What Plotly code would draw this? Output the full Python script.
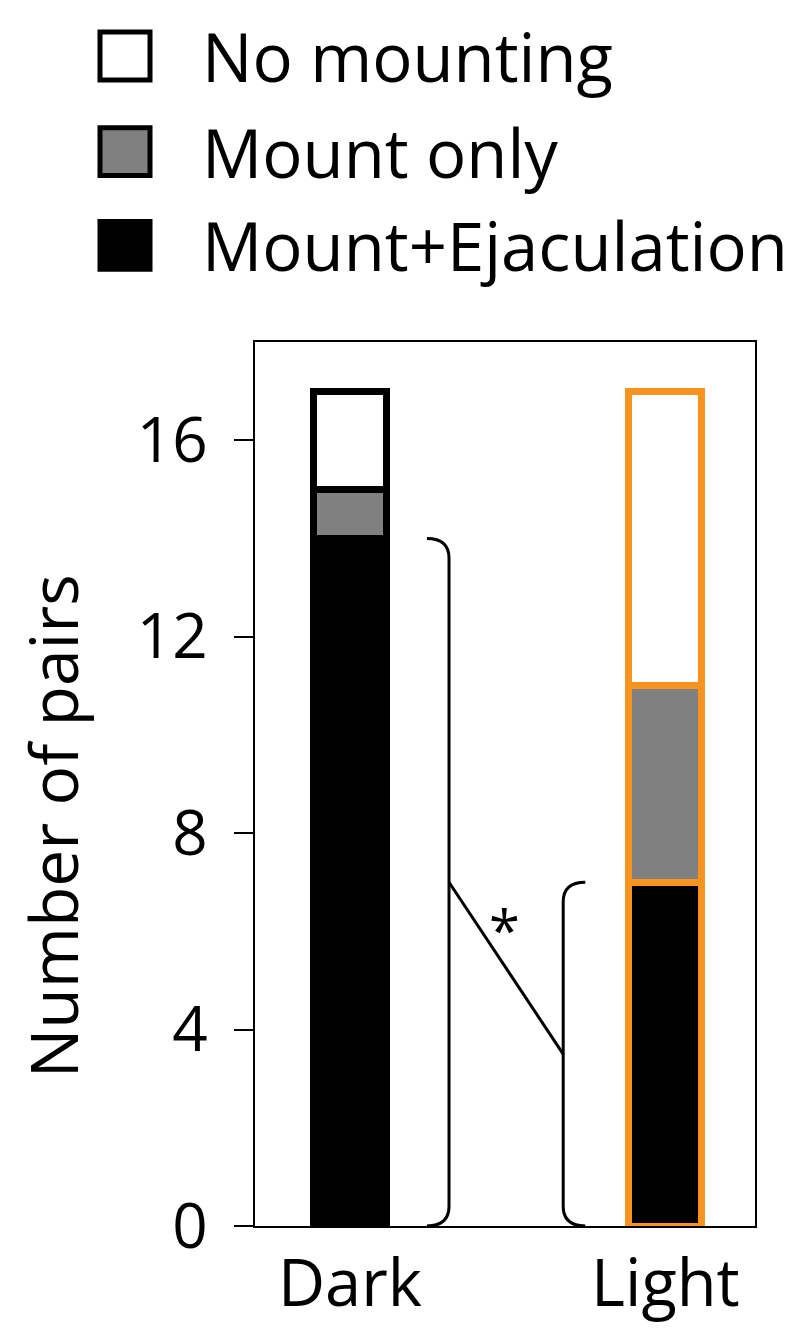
import plotly.graph_objects as go

# ---------------- data ----------------
groups = ["Dark", "Light"]
mount_ejac = [14, 7]
mount_only = [1, 4]
no_mounting = [2, 6]
outline_colors = ["#000000", "#F7931E"]
y_ticks = [0, 4, 8, 12, 16]
legend_labels = ["No mounting", "Mount only", "Mount+Ejaculation"]
legend_fills = ["#FFFFFF", "#808080", "#000000"]
significance = "*"
y_title = "Number of pairs"

W, H = 810, 1329
L, R, T, B = 247, 747, 334, 1221  # plot area pixel box
FONT = "Open Sans"

xpos = [0, 1]
fig = go.Figure()
for vals, fill in zip([mount_ejac, mount_only, no_mounting], ["#000000", "#808080", "#FFFFFF"]):
    fig.add_trace(go.Bar(
        x=xpos, y=vals, width=0.231,
        marker=dict(color=fill, line=dict(color=outline_colors, width=7)),
        showlegend=False, hoverinfo="skip",
    ))

# braces (computed from the mount+ejaculation counts)
ry = 0.4
dx = 0.07
xv_d = xpos[0] + 0.314
xv_l = xpos[1] - 0.324
top_d = mount_ejac[0]
top_l = mount_ejac[1]
path_d = (f"M {xv_d-dx},{top_d} Q {xv_d},{top_d} {xv_d},{top_d-ry} "
          f"L {xv_d},{ry} Q {xv_d},0 {xv_d-dx},0")
path_l = (f"M {xv_l+dx},{top_l} Q {xv_l},{top_l} {xv_l},{top_l-ry} "
          f"L {xv_l},{ry} Q {xv_l},0 {xv_l+dx},0")
shapes = [
    dict(type="path", path=path_d, xref="x", yref="y", line=dict(color="black", width=3)),
    dict(type="path", path=path_l, xref="x", yref="y", line=dict(color="black", width=3)),
    dict(type="line", xref="x", yref="y", x0=xv_d, y0=top_d / 2, x1=xv_l, y1=top_l / 2,
         line=dict(color="black", width=3)),
]

def px(x):
    return (x - L) / (R - L)

def py(y):
    return (B - y) / (B - T)

annotations = [
    dict(x=(xv_d + xv_l) / 2 - 0.005, y=(top_d / 2 + top_l / 2) / 2 + 0.8, xref="x", yref="y",
         text=significance, showarrow=False, font=dict(family=FONT, size=56, color="black"),
         xanchor="center", yanchor="middle"),
    dict(x=px(44), y=py(820), xref="paper", yref="paper", text=y_title, textangle=-90,
         showarrow=False, xanchor="center", yanchor="middle",
         font=dict(family=FONT, size=66, color="black")),
]

# manual legend
legend_rows = [47, 143, 237]
for lab, fill, yc in zip(legend_labels, legend_fills, legend_rows):
    shapes.append(dict(type="rect", xref="paper", yref="paper",
                       x0=px(92), x1=px(142), y0=py(yc + 24), y1=py(yc - 24),
                       fillcolor=fill, line=dict(color="black", width=5)))
    annotations.append(dict(x=px(192), y=py(yc), xref="paper", yref="paper", text=lab,
                            showarrow=False, xanchor="left", yanchor="middle",
                            font=dict(family=FONT, size=67, color="black")))

fig.update_layout(
    width=W, height=H, barmode="stack",
    margin=dict(l=L, r=W - R, t=T, b=H - B, pad=0),
    paper_bgcolor="white", plot_bgcolor="white",
    font=dict(family=FONT, color="black"),
    shapes=shapes, annotations=annotations,
    xaxis=dict(range=[-0.301, 1.284], tickvals=xpos, ticktext=groups, ticks="",
               showline=True, mirror=True, linecolor="black", linewidth=2,
               showgrid=False, zeroline=False, tickfont=dict(size=65, family=FONT)),
    yaxis=dict(range=[0, 18], tickvals=y_ticks, ticks="outside", ticklen=19, tickwidth=2,
               tickcolor="black", showline=True, mirror=True, linecolor="black", linewidth=2,
               showgrid=False, zeroline=False, tickfont=dict(size=62, family=FONT),
               ticklabelstandoff=14),
)

fig.write_html("out.html")
